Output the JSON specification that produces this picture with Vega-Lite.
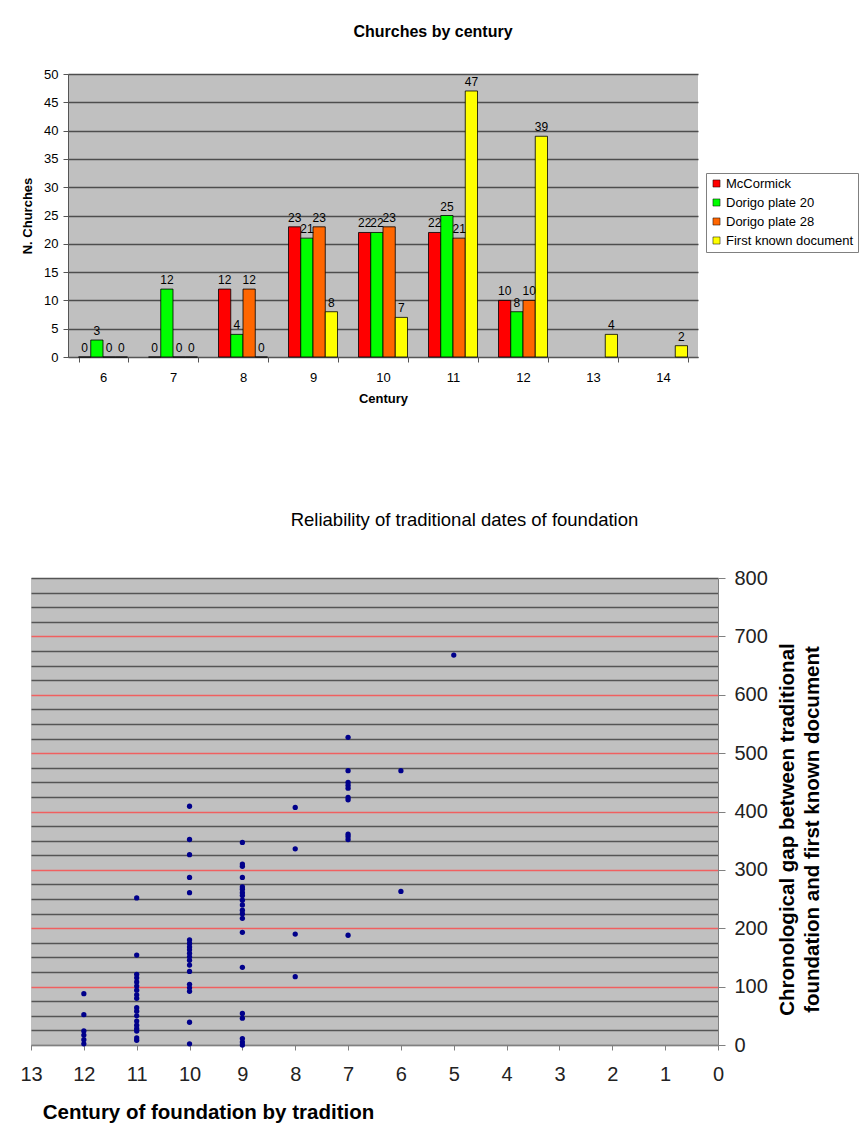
{
  "$schema": "https://vega.github.io/schema/vega-lite/v6.json",
  "background": "white",
  "padding": {"left": 19, "top": 24, "right": 5, "bottom": 5},
  "spacing": 105,
  "config": {
    "font": "Liberation Sans",
    "view": {"fill": "#C0C0C0", "stroke": null},
    "axis": {"labelColor": "#000", "titleColor": "#000", "labelFont": "Liberation Sans", "titleFont": "Liberation Sans"},
    "title": {"font": "Liberation Sans", "color": "#000"}
  },
  "vconcat": [
    {"hconcat": [
    {
      "width": 37,
      "height": 10,
      "view": {"fill": null, "stroke": null},
      "data": {"values": []},
      "mark": "point",
      "encoding": {}
    },
    {
      "title": {"text": "Churches by century", "fontSize": 16, "fontWeight": "bold", "anchor": "middle", "dx": 50, "offset": 28},
      "width": 630,
      "height": 283,
      "data": {"values": [
        {"century": 6, "series": "McCormick", "count": 0},
        {"century": 6, "series": "Dorigo plate 20", "count": 3},
        {"century": 6, "series": "Dorigo plate 28", "count": 0},
        {"century": 6, "series": "First known document", "count": 0},
        {"century": 7, "series": "McCormick", "count": 0},
        {"century": 7, "series": "Dorigo plate 20", "count": 12},
        {"century": 7, "series": "Dorigo plate 28", "count": 0},
        {"century": 7, "series": "First known document", "count": 0},
        {"century": 8, "series": "McCormick", "count": 12},
        {"century": 8, "series": "Dorigo plate 20", "count": 4},
        {"century": 8, "series": "Dorigo plate 28", "count": 12},
        {"century": 8, "series": "First known document", "count": 0},
        {"century": 9, "series": "McCormick", "count": 23},
        {"century": 9, "series": "Dorigo plate 20", "count": 21},
        {"century": 9, "series": "Dorigo plate 28", "count": 23},
        {"century": 9, "series": "First known document", "count": 8},
        {"century": 10, "series": "McCormick", "count": 22},
        {"century": 10, "series": "Dorigo plate 20", "count": 22},
        {"century": 10, "series": "Dorigo plate 28", "count": 23},
        {"century": 10, "series": "First known document", "count": 7},
        {"century": 11, "series": "McCormick", "count": 22},
        {"century": 11, "series": "Dorigo plate 20", "count": 25},
        {"century": 11, "series": "Dorigo plate 28", "count": 21},
        {"century": 11, "series": "First known document", "count": 47},
        {"century": 12, "series": "McCormick", "count": 10},
        {"century": 12, "series": "Dorigo plate 20", "count": 8},
        {"century": 12, "series": "Dorigo plate 28", "count": 10},
        {"century": 12, "series": "First known document", "count": 39},
        {"century": 13, "series": "First known document", "count": 4},
        {"century": 14, "series": "First known document", "count": 2}
      ]},
      "encoding": {
        "x": {
          "field": "century", "type": "ordinal",
          "scale": {"domain": [6, 7, 8, 9, 10, 11, 12, 13, 14], "paddingInner": 0.3, "paddingOuter": 0.15},
          "axis": {"title": "Century", "labelAngle": 0, "tickBand": "extent", "tickSize": 5, "labelPadding": 9,
                   "labelFontSize": 13, "titleFontSize": 13, "titleFontWeight": "bold", "titlePadding": 8,
                   "domainColor": "#555", "tickColor": "#555"}
        },
        "xOffset": {
          "field": "series", "type": "nominal",
          "scale": {"domain": ["McCormick", "Dorigo plate 20", "Dorigo plate 28", "First known document"]}
        },
        "y": {
          "field": "count", "type": "quantitative",
          "scale": {"domain": [0, 50], "nice": false},
          "axis": {"title": "N. Churches", "values": [0, 5, 10, 15, 20, 25, 30, 35, 40, 45, 50],
                   "grid": true, "gridColor": "#4d4d4d", "gridWidth": 1.3, "tickSize": 5, "labelPadding": 5,
                   "labelFontSize": 13, "titleFontSize": 13, "titleFontWeight": "bold", "titlePadding": 9,
                   "domainColor": "#555", "tickColor": "#555"}
        }
      },
      "layer": [
        {
          "mark": {"type": "bar", "stroke": "#000", "strokeWidth": 0.8},
          "encoding": {
            "color": {
              "field": "series", "type": "nominal",
              "scale": {"domain": ["McCormick", "Dorigo plate 20", "Dorigo plate 28", "First known document"],
                        "range": ["#FF0000", "#00FF00", "#FF6600", "#FFFF00"]},
              "legend": {"title": null, "orient": "none", "legendX": 675, "legendY": 99,
                         "symbolType": "square", "symbolSize": 50, "symbolStrokeColor": "#000", "symbolStrokeWidth": 0.5,
                         "labelFontSize": 13, "labelFont": "Liberation Sans", "labelColor": "#000", "labelOffset": 3,
                         "strokeColor": "#808080", "fillColor": "white", "padding": 4, "rowPadding": 5}
            }
          }
        },
        {
          "mark": {"type": "text", "baseline": "bottom", "dy": -2, "fontSize": 12, "color": "#000"},
          "encoding": {"text": {"field": "count", "type": "quantitative"}}
        }
      ]
    }
    ], "bounds": "flush", "spacing": 0},
    {
      "title": {"text": "Reliability of traditional dates of foundation", "fontSize": 18.5, "fontWeight": "normal", "anchor": "middle", "dx": 90, "offset": 39},
      "width": 687,
      "height": 467,
      "data": {"values": [
        {"century": 12, "gap": 88}, {"century": 12, "gap": 52}, {"century": 12, "gap": 24}, {"century": 12, "gap": 17}, {"century": 12, "gap": 9}, {"century": 12, "gap": 2},
        {"century": 11, "gap": 252}, {"century": 11, "gap": 154}, {"century": 11, "gap": 121}, {"century": 11, "gap": 115}, {"century": 11, "gap": 108}, {"century": 11, "gap": 101},
        {"century": 11, "gap": 94}, {"century": 11, "gap": 86}, {"century": 11, "gap": 80}, {"century": 11, "gap": 64}, {"century": 11, "gap": 58}, {"century": 11, "gap": 50},
        {"century": 11, "gap": 41}, {"century": 11, "gap": 34}, {"century": 11, "gap": 28}, {"century": 11, "gap": 24}, {"century": 11, "gap": 12}, {"century": 11, "gap": 8},
        {"century": 10, "gap": 409}, {"century": 10, "gap": 352}, {"century": 10, "gap": 326}, {"century": 10, "gap": 287}, {"century": 10, "gap": 261}, {"century": 10, "gap": 180},
        {"century": 10, "gap": 174}, {"century": 10, "gap": 168}, {"century": 10, "gap": 163}, {"century": 10, "gap": 157}, {"century": 10, "gap": 151}, {"century": 10, "gap": 145},
        {"century": 10, "gap": 137}, {"century": 10, "gap": 126}, {"century": 10, "gap": 104}, {"century": 10, "gap": 98}, {"century": 10, "gap": 92}, {"century": 10, "gap": 39},
        {"century": 10, "gap": 2},
        {"century": 9, "gap": 347}, {"century": 9, "gap": 310}, {"century": 9, "gap": 306}, {"century": 9, "gap": 287}, {"century": 9, "gap": 271}, {"century": 9, "gap": 267},
        {"century": 9, "gap": 261}, {"century": 9, "gap": 256}, {"century": 9, "gap": 248}, {"century": 9, "gap": 240}, {"century": 9, "gap": 231}, {"century": 9, "gap": 225},
        {"century": 9, "gap": 217}, {"century": 9, "gap": 193}, {"century": 9, "gap": 133}, {"century": 9, "gap": 54}, {"century": 9, "gap": 46}, {"century": 9, "gap": 11},
        {"century": 9, "gap": 5}, {"century": 9, "gap": 0},
        {"century": 8, "gap": 407}, {"century": 8, "gap": 336}, {"century": 8, "gap": 190}, {"century": 8, "gap": 117},
        {"century": 7, "gap": 527}, {"century": 7, "gap": 470}, {"century": 7, "gap": 450}, {"century": 7, "gap": 445}, {"century": 7, "gap": 440}, {"century": 7, "gap": 424},
        {"century": 7, "gap": 420}, {"century": 7, "gap": 361}, {"century": 7, "gap": 357}, {"century": 7, "gap": 352}, {"century": 7, "gap": 188},
        {"century": 6, "gap": 470}, {"century": 6, "gap": 263},
        {"century": 5, "gap": 668}
      ]},
      "mark": {"type": "point", "filled": true, "shape": "circle", "size": 28, "color": "#00008B", "opacity": 1},
      "encoding": {
        "x": {
          "field": "century", "type": "quantitative",
          "scale": {"domain": [0, 13], "reverse": true, "nice": false, "zero": false},
          "axis": {"title": "Century of foundation by tradition", "values": [0, 1, 2, 3, 4, 5, 6, 7, 8, 9, 10, 11, 12, 13],
                   "grid": false, "tickSize": 5, "labelPadding": 14, "labelFontSize": 20, "labelOverlap": false, "labelFlush": false,
                   "titleFontSize": 20.5, "titleFontWeight": "bold", "titlePadding": 18, "titleX": 177, "titleAlign": "center",
                   "domainColor": "#808080", "tickColor": "#808080", "labelColor": "#222"}
        },
        "y": {
          "field": "gap", "type": "quantitative",
          "scale": {"domain": [0, 800], "nice": false},
          "axis": {
            "orient": "right",
            "title": ["Chronological gap between traditional", "foundation and first known document"],
            "values": [0, 25, 50, 75, 100, 125, 150, 175, 200, 225, 250, 275, 300, 325, 350, 375, 400, 425, 450, 475, 500, 525, 550, 575, 600, 625, 650, 675, 700, 725, 750, 775, 800],
            "labelExpr": "datum.value % 100 === 0 ? datum.label : ''",
            "labelOverlap": false,
            "labelFlush": false,
            "grid": true,
            "gridColor": {"condition": {"test": "datum.value % 100 === 0 && datum.value > 0 && datum.value < 800", "value": "#F06060"}, "value": "#555555"},
            "gridWidth": 1.3,
            "tickColor": {"condition": {"test": "datum.value % 100 === 0", "value": "#808080"}, "value": "transparent"},
            "tickSize": 7, "labelPadding": 9, "labelFontSize": 20, "labelColor": "#222",
            "titleFontSize": 20.5, "titleFontWeight": "bold", "titleAngle": 270, "titleLineHeight": 25,
            "titlePadding": 5, "titleY": 251,
            "domainColor": "#808080"
          }
        }
      }
    }
  ]
}
